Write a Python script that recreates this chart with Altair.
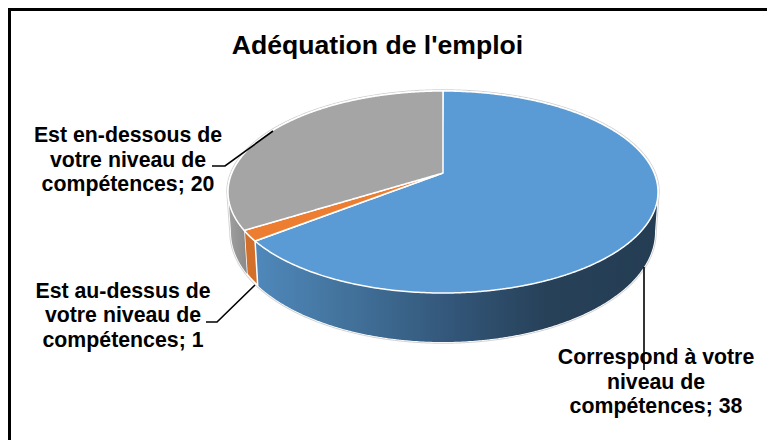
import math
import altair as alt
import pandas as pd

TITLE = "Adéquation de l'emploi"
categories = ["Correspond à votre niveau de compétences", "Est au-dessus de votre niveau de compétences", "Est en-dessous de votre niveau de compétences"]
values = [38, 1, 20]
colors = ["#5B9BD5", "#ED7D31", "#A5A5A5"]
label_lines = [
    ["Correspond à votre", "niveau de", "compétences; 38"],
    ["Est au-dessus de", "votre niveau de", "compétences; 1"],
    ["Est en-dessous de", "votre niveau de", "compétences; 20"],
]
label_x = [656, 123, 128]
label_y = [358, 291.5, 136]
leaders = [
    [(644, 267), (644, 370)],
    [(255, 285), (217, 322), (206, 322)],
    [(273, 131), (225, 166), (212, 166)],
]

W, H = 759, 432
# Perspective view of the pie disc: centre, back and front edges
CX, APEX_Y, BACK_Y, FRONT_Y, RX = 443, 173, 91, 293, 215
BOT_RX, BOT_CY, BOT_RY = 212, 232, 110
C = (2 * APEX_Y - (BACK_Y + FRONT_Y)) / (BACK_Y - FRONT_Y)
A = BACK_Y * (1 + C) - APEX_Y
D = RX * math.sqrt(1 - C * C)

xs = alt.Scale(domain=[8, 8 + W], range=[0, W], nice=False, zero=False)
ys = alt.Scale(domain=[8 + H, 8], range=[H, 0], nice=False, zero=False)
X = lambda: alt.X("x:Q", scale=xs, axis=None)
Y = lambda: alt.Y("y:Q", scale=ys, axis=None)


def top(t):
    u, v = math.sin(t), math.cos(t)
    den = 1 + C * v
    return CX + D * u / den, (A * v + APEX_Y) / den


def bottom(t):
    x, _ = top(t)
    s = max(-1.0, min(1.0, (x - CX) / RX))
    return CX + BOT_RX * s, BOT_CY + BOT_RY * math.sqrt(1 - s * s)


def arc(fn, a0, a1, n=240):
    return [fn(a0 + (a1 - a0) * i / n) for i in range(n + 1)]


def envelope(poly):
    """Upper and lower bound of a polygon at each of its x positions."""
    rows = []
    edges = list(zip(poly, poly[1:] + poly[:1]))
    for x in sorted({round(p[0], 2) for p in poly}):
        hit = []
        for p, q in edges:
            if min(p[0], q[0]) - 0.006 <= x <= max(p[0], q[0]) + 0.006:
                if abs(q[0] - p[0]) < 1e-9:
                    hit += [p[1], q[1]]
                else:
                    f = max(0, min(1, (x - p[0]) / (q[0] - p[0])))
                    hit.append(p[1] + (q[1] - p[1]) * f)
        rows.append({"x": x, "y": min(hit), "y2": max(hit)})
    return pd.DataFrame(rows)


def area(poly, fill, stroke=None, sw=0):
    kw = {"fill": fill, "orient": "vertical"}
    if stroke:
        kw.update(stroke=stroke, strokeWidth=sw)
    return alt.Chart(envelope(poly)).mark_area(**kw).encode(x=X(), y=Y(), y2="y2")


total = sum(values)
angles = [0]
for v in values:
    angles.append(angles[-1] + 2 * math.pi * v / total)
right = math.pi - math.acos(C)
left = math.pi + math.acos(C)

layers = []

frame = pd.DataFrame({"x": [9.5], "x2": [800], "y": [9.5], "y2": [800]})
layers.append(alt.Chart(frame).mark_rect(fill="white", stroke="black", strokeWidth=3, clip=True).encode(
    x=X(), x2="x2", y=Y(), y2="y2"))

# silhouette rim
sil = arc(top, left - 2 * math.pi, right, 400) + arc(bottom, right, left, 300)
layers.append(area(sil, "#D4D4D4", "#D4D4D4", 3.5))
layers.append(area(sil, "white", "white", 1.6))

# side walls
blue_grad = alt.Gradient(gradient="linear", x1=0, x2=1, y1=0, y2=0, stops=[
    alt.GradientStop(color="#4F88BB", offset=0),
    alt.GradientStop(color="#44759F", offset=0.2),
    alt.GradientStop(color="#33577A", offset=0.48),
    alt.GradientStop(color="#274159", offset=0.72),
    alt.GradientStop(color="#243D53", offset=1),
])
gray_grad = alt.Gradient(gradient="linear", x1=0, x2=1, y1=0, y2=0, stops=[
    alt.GradientStop(color="#A0A0A0", offset=0),
    alt.GradientStop(color="#8A8A8A", offset=1),
])


def wall(a0, a1):
    return arc(top, a0, a1) + arc(bottom, a0, a1)[::-1]


layers.append(area(wall(right, angles[1]), blue_grad))
layers.append(area(wall(angles[1], angles[2]), "#D2702B", "white", 1.5))
layers.append(area(wall(angles[2], left), gray_grad))

# top faces
apex = (CX, APEX_Y)
for i, c in enumerate(colors):
    layers.append(area([apex] + arc(top, angles[i], angles[i + 1], 360), c, "white", 1.5))

# leader lines
rows = []
for k, seg in enumerate(leaders):
    for o, (x, y) in enumerate(seg):
        rows.append({"x": x, "y": y, "k": k, "o": o})
layers.append(alt.Chart(pd.DataFrame(rows)).mark_line(color="black", strokeWidth=1.6).encode(
    x=X(), y=Y(), detail="k:N", order="o:Q"))

# labels
rows = []
for i, lines in enumerate(label_lines):
    for j, t in enumerate(lines):
        rows.append({"x": label_x[i], "y": label_y[i] + j * 24.5, "t": t})
layers.append(alt.Chart(pd.DataFrame(rows)).mark_text(
    font="Liberation Sans", fontWeight="bold", fontSize=21.3, color="black",
    align="center", baseline="middle").encode(x=X(), y=Y(), text="t:N"))
layers.append(alt.Chart(pd.DataFrame({"x": [377.5], "y": [46], "t": [TITLE]})).mark_text(
    font="Liberation Sans", fontWeight="bold", fontSize=26.6, color="black",
    align="center", baseline="middle").encode(x=X(), y=Y(), text="t:N"))

chart = alt.layer(*layers).properties(
    width=W, height=H, padding=0, background="white",
    autosize=alt.AutoSizeParams(type="none")).configure_view(stroke=None)
chart.save("out.html", embed_options={"renderer": "svg", "actions": False})
